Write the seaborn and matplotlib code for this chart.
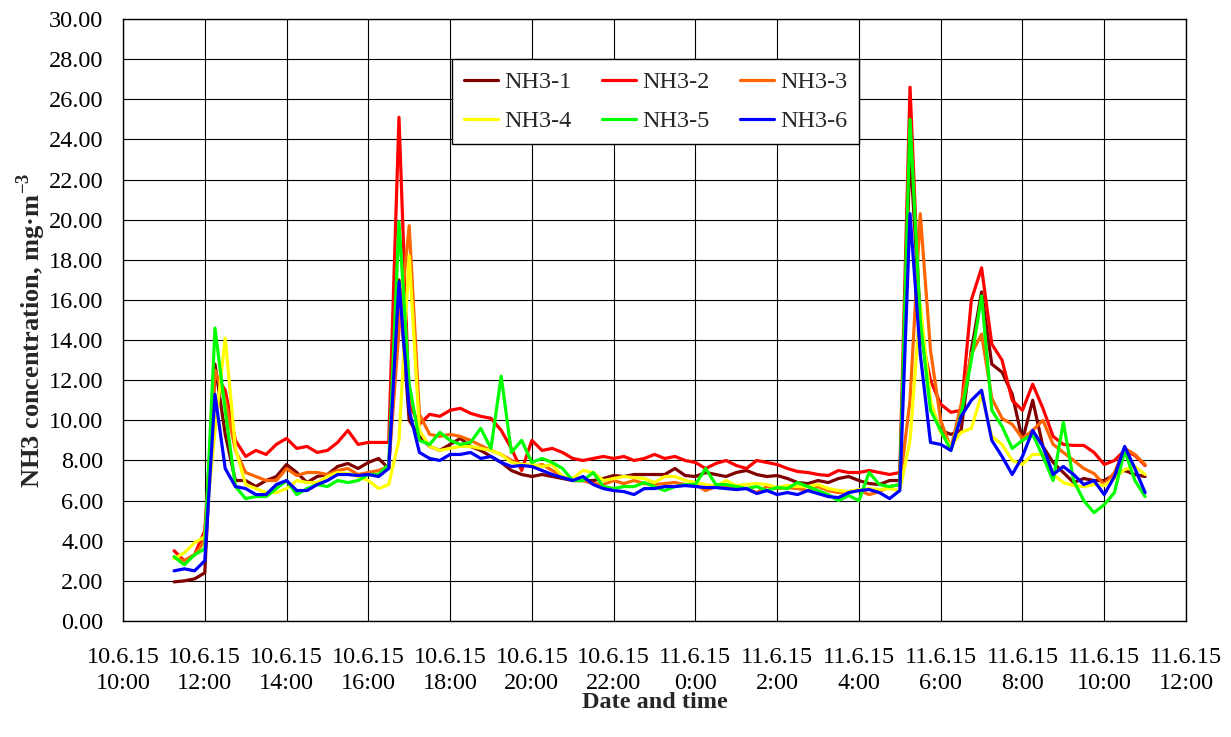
import numpy as np
import pandas as pd
import matplotlib
matplotlib.use("Agg")
import matplotlib.pyplot as plt
import seaborn as sns

# sample times: hours since 10.6.15 00:00, every 15 min from 11:15 to 11.6.15 11:00
hours = np.arange(11.25, 35.01, 0.25)

nh3_1 = [1.95, 2.0, 2.1,
         2.4, 12.8, 9.3, 7.0,
         7.0, 6.7, 7.0, 7.2,
         7.8, 7.4, 6.9, 7.2,
         7.3, 7.7, 7.85, 7.6,
         7.9, 8.1, 7.6, 17.0,
         10.0, 9.2, 8.7, 8.5,
         8.8, 9.1, 8.7, 8.5,
         8.2, 7.9, 7.5, 7.3,
         7.2, 7.3, 7.2, 7.1,
         7.0, 7.0, 7.0, 7.1,
         7.25, 7.2, 7.3, 7.3,
         7.3, 7.3, 7.6, 7.25,
         7.2, 7.4, 7.3, 7.2,
         7.4, 7.5, 7.3, 7.2,
         7.25, 7.1, 6.9, 6.85,
         7.0, 6.9, 7.1, 7.2,
         7.0, 6.85, 6.8, 7.0,
         7.0, 23.5, 15.0, 10.8,
         9.5, 9.3, 9.5, 13.5,
         16.4, 12.8, 12.4, 11.3,
         9.0, 11.0, 8.7, 7.9,
         7.4, 6.9, 7.1, 7.0,
         7.0, 7.3, 7.5, 7.3,
         7.2]

nh3_2 = [3.5, 3.0, 3.3,
         4.5, 12.3, 11.5, 9.0,
         8.2, 8.5, 8.3, 8.8,
         9.1, 8.6, 8.7, 8.4,
         8.5, 8.9, 9.5, 8.8,
         8.9, 8.9, 8.9, 25.1,
         10.8, 9.8, 10.3, 10.2,
         10.5, 10.6, 10.35, 10.2,
         10.1, 9.5, 8.6, 7.5,
         9.0, 8.5, 8.6, 8.4,
         8.1, 8.0, 8.1, 8.2,
         8.1, 8.2, 8.0, 8.1,
         8.3, 8.1, 8.2, 8.0,
         7.9, 7.6, 7.85, 8.0,
         7.75, 7.6, 8.0, 7.9,
         7.8, 7.6, 7.45, 7.4,
         7.3, 7.25, 7.5, 7.4,
         7.4, 7.5, 7.4, 7.3,
         7.4, 26.6, 14.5, 12.0,
         10.8, 10.4, 10.5, 16.0,
         17.6, 13.8, 13.0, 11.0,
         10.5, 11.8, 10.6, 9.2,
         8.8, 8.75, 8.75, 8.4,
         7.8, 8.0, 8.5, 8.25,
         7.75]

nh3_3 = [3.2, 3.0, 3.3,
         4.0, 12.5, 11.0, 8.5,
         7.4, 7.2, 7.0, 7.0,
         7.6, 7.25, 7.4, 7.4,
         7.3, 7.5, 7.6, 7.3,
         7.4, 7.5, 7.7, 14.5,
         19.7, 10.3, 9.3, 9.2,
         9.3, 9.2, 9.0, 8.75,
         8.5, 8.3, 8.0, 7.8,
         7.7, 7.8, 7.5, 7.2,
         7.0, 7.0, 6.85, 6.8,
         7.0, 6.85, 7.0, 6.85,
         6.8, 6.85, 6.9, 6.8,
         6.8, 6.5, 6.7, 6.65,
         6.7, 6.6, 6.4, 6.7,
         6.6, 6.65, 6.6, 6.5,
         6.7, 6.5, 6.4, 6.45,
         6.5, 6.3, 6.45, 6.7,
         6.8, 11.0, 20.3, 13.5,
         10.0, 8.6, 10.8, 13.3,
         14.3, 11.1, 10.1, 9.8,
         9.1, 9.5, 10.0, 8.8,
         8.4, 8.0, 7.6, 7.35,
         6.8, 7.4, 8.6, 8.3,
         7.8]

nh3_4 = [3.1, 3.4, 3.9,
         4.2, 9.5, 14.1, 8.6,
         6.8, 6.6, 6.4, 6.4,
         6.6, 7.0, 6.9, 6.9,
         7.2, 7.4, 7.35, 7.2,
         7.0, 6.6, 6.8, 9.0,
         18.2, 9.5, 8.7, 8.5,
         8.6, 8.7, 8.7, 8.6,
         8.5, 8.3, 7.9, 7.8,
         7.8, 7.7, 7.8, 7.2,
         7.1, 7.5, 7.4, 7.0,
         7.1, 7.2, 7.15, 7.1,
         6.9, 7.2, 7.2, 7.0,
         6.9, 6.8, 6.7, 7.0,
         6.75, 6.8, 6.85, 6.8,
         6.65, 6.75, 6.7, 6.7,
         6.8, 6.6, 6.5, 6.45,
         6.55, 6.6, 6.55, 6.6,
         6.5, 9.0, 15.8, 11.0,
         9.4, 8.7, 9.4, 9.6,
         11.3, 9.2, 8.8, 8.0,
         7.8, 8.3, 8.3, 7.3,
         6.9, 6.75, 6.7, 6.8,
         6.75, 7.1, 7.55, 7.7,
         7.3]

nh3_5 = [3.2, 2.8, 3.3,
         3.6, 14.6, 10.5, 6.7,
         6.1, 6.2, 6.2, 6.6,
         7.0, 6.3, 6.6, 6.8,
         6.7, 7.0, 6.9, 7.0,
         7.3, 7.3, 7.8, 19.9,
         11.8, 9.0, 8.8, 9.4,
         9.0, 8.8, 8.9, 9.6,
         8.6, 12.2, 8.4, 9.0,
         7.9, 8.1, 7.9, 7.6,
         7.0, 7.0, 7.4, 6.7,
         6.6, 6.7, 6.7, 6.9,
         6.7, 6.5, 6.7, 6.8,
         6.8, 7.6, 6.8, 6.8,
         6.7, 6.6, 6.7, 6.5,
         6.65, 6.6, 6.9, 6.7,
         6.5, 6.3, 6.0, 6.25,
         6.0, 7.4, 6.8, 6.7,
         6.8, 25.0, 15.0, 10.5,
         9.5, 8.5, 10.3, 13.0,
         16.2, 10.5, 9.7, 8.6,
         9.0, 9.3, 8.2, 7.0,
         9.9, 7.0, 6.0, 5.4,
         5.8, 6.4, 8.5, 7.0,
         6.2]

nh3_6 = [2.5, 2.6, 2.5,
         3.0, 11.3, 7.6, 6.7,
         6.6, 6.3, 6.3, 6.8,
         7.0, 6.5, 6.5, 6.8,
         7.0, 7.3, 7.3, 7.25,
         7.3, 7.2, 7.6, 16.9,
         10.5, 8.4, 8.1, 8.0,
         8.3, 8.3, 8.4, 8.1,
         8.2, 7.9, 7.7, 7.75,
         7.7, 7.5, 7.3, 7.15,
         7.0, 7.2, 6.8, 6.6,
         6.5, 6.45, 6.3, 6.6,
         6.6, 6.7, 6.7, 6.75,
         6.7, 6.65, 6.65, 6.6,
         6.55, 6.6, 6.35, 6.5,
         6.3, 6.4, 6.3, 6.5,
         6.35, 6.2, 6.15, 6.4,
         6.5, 6.55, 6.4, 6.1,
         6.5, 20.3, 13.3, 8.9,
         8.8, 8.5, 10.2, 11.0,
         11.5, 9.0, 8.2, 7.3,
         8.2, 9.5, 8.7, 7.3,
         7.7, 7.3, 6.8, 7.0,
         6.3, 7.2, 8.7, 7.6,
         6.4]

series_names = ["NH3-1", "NH3-2", "NH3-3", "NH3-4", "NH3-5", "NH3-6"]
colors = ["#800000", "#FF0000", "#FF6600", "#FFFF00", "#00FF00", "#0000FF"]

tick_hours = list(range(10, 37, 2))
tick_labels = ["10.6.15\n10:00", "10.6.15\n12:00", "10.6.15\n14:00", "10.6.15\n16:00",
               "10.6.15\n18:00", "10.6.15\n20:00", "10.6.15\n22:00", "11.6.15\n0:00",
               "11.6.15\n2:00", "11.6.15\n4:00", "11.6.15\n6:00", "11.6.15\n8:00",
               "11.6.15\n10:00", "11.6.15\n12:00"]

# long format for seaborn
df = pd.concat([pd.DataFrame({"hour": hours, "value": vals, "series": name})
                for name, vals in zip(series_names, [nh3_1, nh3_2, nh3_3, nh3_4, nh3_5, nh3_6])],
               ignore_index=True)

sns.set_style("white")
plt.rcParams["font.family"] = ["Liberation Serif", "DejaVu Serif"]
plt.rcParams["mathtext.fontset"] = "custom"
plt.rcParams["mathtext.rm"] = "Liberation Serif"
plt.rcParams["mathtext.bf"] = "Liberation Serif:bold"

fig = plt.figure(figsize=(12.31, 7.37), dpi=100)
ax = fig.add_axes([123 / 1231, 1 - 621 / 737, (1186 - 123) / 1231, (621 - 19) / 737])

sns.lineplot(data=df, x="hour", y="value", hue="series", hue_order=series_names,
             palette=colors, estimator=None, sort=False, linewidth=2.3, ax=ax)

ax.set_xlim(10, 36)
ax.set_ylim(0, 30)
ax.set_yticks(np.arange(0, 30.1, 2))
ax.set_yticklabels([f"{v:.2f}" for v in np.arange(0, 30.1, 2)])
ax.set_xticks(tick_hours)
ax.set_xticklabels(tick_labels, linespacing=1.3)
ax.tick_params(axis="both", direction="out", length=6, width=1, color="black",
               labelsize=17.5, labelcolor="black", pad=8)
ax.tick_params(axis="x", pad=13)
ax.grid(True, color="black", linewidth=0.8)
for s in ax.spines.values():
    s.set_color("black")
    s.set_linewidth(1)

ax.set_xlabel("Date and time", fontsize=17.5, fontweight="bold")
ax.set_ylabel(r"NH3 concentration, mg·m$^{\mathbf{-3}}$", fontsize=19, fontweight="bold")
ax.xaxis.set_label_coords(0.5, -0.118)
ax.yaxis.set_label_coords(-0.071, 0.482)

# legend in row order: 1 2 3 / 4 5 6
handles, labels = ax.get_legend_handles_labels()
order = [0, 3, 1, 4, 2, 5]
leg = ax.legend([handles[i] for i in order], [labels[i] for i in order], ncol=3,
                loc="upper left", bbox_to_anchor=(452 / 1231, 1 - 59 / 737),
                bbox_transform=fig.transFigure, fontsize=17.5, frameon=True, fancybox=False,
                framealpha=1, edgecolor="black", handlelength=1.4, handletextpad=0.25,
                columnspacing=1.25, labelspacing=0.7, borderpad=0.5, borderaxespad=0)
leg.get_frame().set_linewidth(1)
for line in leg.get_lines():
    line.set_linewidth(2.3)

fig.savefig("out.png", dpi=100)
